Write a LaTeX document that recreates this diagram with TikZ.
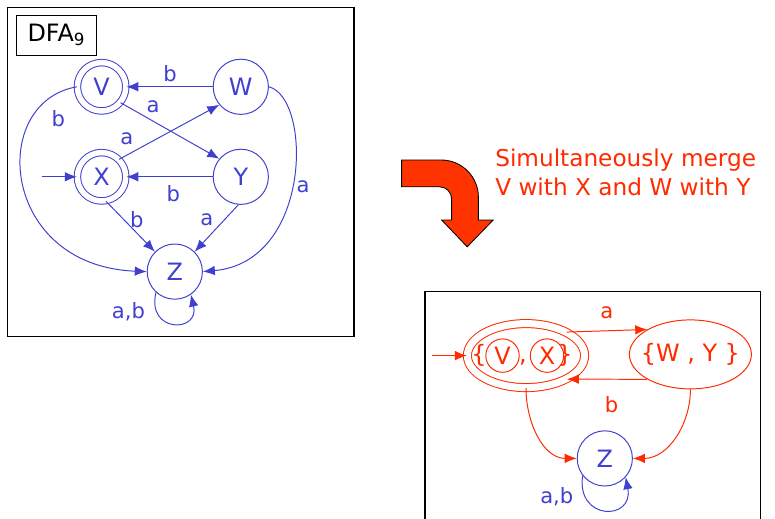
\documentclass[tikz,border=0pt]{standalone}
\usepackage{fontspec}
\setmainfont{DejaVu Sans}
\usetikzlibrary{arrows.meta,shapes.geometric}
\definecolor{dfaBlue}  {HTML}{4040D0}
\definecolor{mergeRed} {HTML}{FF2A00}
\definecolor{bendRed}  {HTML}{FF3300}
\tikzset{
  font=\fontsize{15}{18}\selectfont,
  arrow/.style={-{Latex[length=3mm,width=2.4mm]},draw=dfaBlue,line width=0.7pt},
  redarrow/.style={arrow,draw=mergeRed},
  frame/.style={draw=black,line width=0.8pt},
  state/.style={circle,draw=dfaBlue,line width=0.7pt,minimum size=1.38cm,inner sep=0pt,
    text=dfaBlue,font=\fontsize{17}{20}\selectfont},
  accept/.style={state,minimum size=1.21cm,double,double distance=3.9pt},
  mstate/.style={ellipse,draw=mergeRed,line width=0.7pt,inner sep=0pt,
    text=mergeRed,font=\fontsize{17}{20}\selectfont},
  sub/.style={circle,draw=mergeRed,line width=0.7pt,minimum size=0.835cm,inner sep=0pt,
    text=mergeRed,font=\fontsize{17}{20}\selectfont},
  glyph/.style={inner sep=0pt,anchor=base,text=mergeRed,font=\fontsize{17}{20}\selectfont},
  lbl/.style={inner sep=0pt,text=dfaBlue},
  rlbl/.style={inner sep=0pt,text=mergeRed},
  titlebox/.style={draw=black,line width=0.7pt,minimum width=2.02cm,minimum height=1.0cm,
    inner sep=0pt,font=\fontsize{17}{20}\selectfont},
  note/.style={inner sep=0pt,align=left,text=mergeRed,font=\fontsize{16.5}{20.6}\selectfont},
  bentarrow/.style={draw=black,line width=0.6pt,fill=bendRed},
}

\begin{document}
\begin{tikzpicture}[x=1cm,y=1cm]

\useasboundingbox (0,0) rectangle (19.375,12.95);
\clip (0,0) rectangle (19.375,12.95);

% original automaton
\draw[frame] (0.18,12.77) rectangle (8.85,4.53);
\node[titlebox] (title) at (1.41,12.075) {DFA\textsubscript{9}};

\node[accept] (V) at (2.54,10.78) {V};
\node[state]  (W) at (6.02,10.78) {W};
\node[accept] (X) at (2.54,8.53) {X};
\node[state]  (Y) at (6.02,8.53) {Y};
\node[state]  (Z) at (4.37,6.16) {Z};

\coordinate (start) at (1.04,8.53);
\draw[arrow] (start) -- (X.west);

\draw[arrow] (W) -- (V);
\draw[arrow] (V.-40) -- (Y.140);
\draw[arrow] (X.45) -- (W.220);
\draw[arrow] (Y) -- (X);
\draw[arrow] (X.-80) -- (Z.135);
\draw[arrow] (Y.-95) -- (Z.45);
\draw[arrow] (V.west) .. controls (-0.3,10.4) and (0.0,6.3) .. (Z.west);
\draw[arrow] (W.east) .. controls (7.8,10.5) and (7.8,6.4) .. (Z.east);
\draw[arrow] (Z.228) .. controls (3.65,4.62) and (5.0,4.62) .. (Z.305);

\node[lbl] (lWV) at (4.25,11.12) {b};
\node[lbl] (lVY) at (3.83,10.28) {a};
\node[lbl] (lXW) at (3.17,9.49) {a};
\node[lbl] (lYX) at (4.33,8.12) {b};
\node[lbl] (lXZ) at (3.42,7.45) {b};
\node[lbl] (lYZ) at (5.17,7.45) {a};
\node[lbl] (lVZ) at (1.46,9.99) {b};
\node[lbl] (lWZ) at (7.58,8.28) {a};
\node[lbl] (lZZ) at (3.21,5.16) {a,b};

% merge step
\draw[bentarrow] (10.04,8.95) -- (11.03,8.95) arc[start angle=90,end angle=0,radius=0.93]
  -- (11.96,7.45) -- (12.33,7.45) -- (11.68,6.78) -- (11.04,7.45) -- (11.29,7.45)
  -- (11.29,7.98) arc[start angle=0,end angle=90,radius=0.3] -- (10.04,8.28) -- cycle;

\node[note,anchor=west] (step) at (12.375,8.64) {Simultaneously merge\\V with X and W with Y};

% merged automaton
\draw[frame] (10.625,5.66) rectangle (19.02,-1);

\node[mstate,double,double distance=5pt,minimum width=2.93cm,minimum height=1.6cm] (VX) at (13.15,4.06) {};
\node[sub] (sV) at (12.5625,4.06) {V};
\node[sub] (sX) at (13.675,4.06) {X};
\node[glyph] (lbr) at (11.975,3.9) {\{};
\node[glyph] (cma) at (13.075,3.9) {,};
\node[glyph] (rbr) at (14.125,3.9) {\}};

\node[mstate,minimum width=3.05cm,minimum height=1.725cm] (WY) at (17.26,4.09) {\makebox[0pt]{\{W , Y \}}};
\node[state] (Zm) at (15.12,1.49) {Z};

\coordinate (mstart) at (10.79,4.06);
\draw[redarrow] (mstart) -- (VX.west);

\draw[redarrow] (VX.30) -- (WY.150);
\draw[redarrow] (WY.210) -- (VX.330);
\draw[redarrow] (VX.south) to[out=-90,in=180] (Zm.west);
\draw[redarrow] (WY.south) to[out=-90,in=0] (Zm.east);
\draw[arrow] (Zm.218) .. controls (14.4,-0.075) and (15.85,-0.075) .. (Zm.318);

\node[rlbl] (lVXWY) at (15.17,5.12) {a};
\node[rlbl] (lWYVX) at (15.29,2.825) {b};
\node[lbl]  (lZmZm) at (13.92,0.53) {a,b};

\end{tikzpicture}
\end{document}
